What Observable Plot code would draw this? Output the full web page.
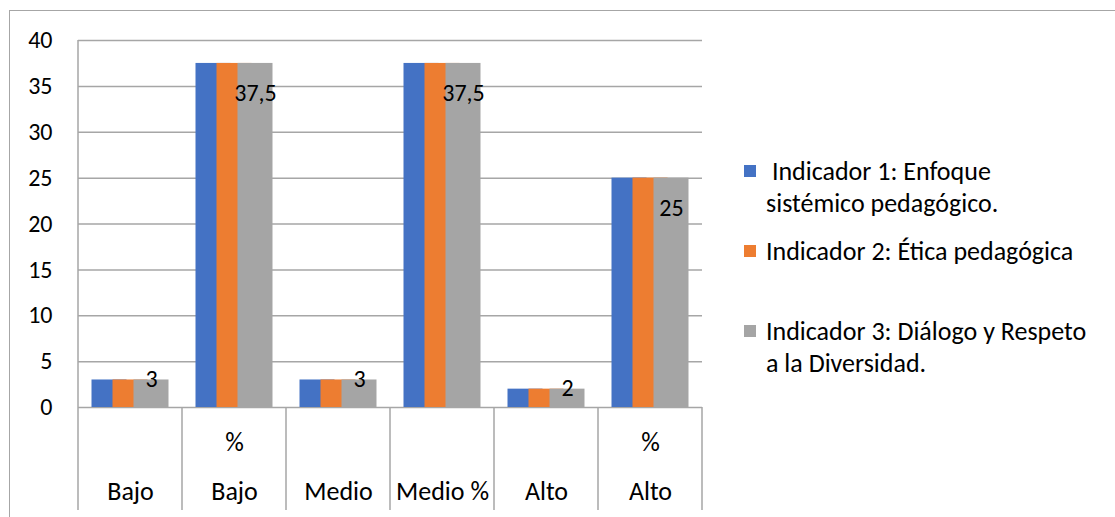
<!DOCTYPE html>
<html>
<head>
<meta charset="utf-8">
<script src="https://cdn.jsdelivr.net/npm/d3@7"></script>
<script src="https://cdn.jsdelivr.net/npm/@observablehq/plot@0.6"></script>
<style>
  html, body { margin: 0; padding: 0; background: #fff; }
  #wrap { position: relative; width: 1115px; height: 517px; overflow: hidden; font-family: Carlito, Calibri, Lato, sans-serif; }
  #border { position: absolute; left: 9px; top: 10px; right: -2px; bottom: -2px; border-left: 1.5px solid #a6a6a6; border-top: 1.5px solid #a6a6a6; }
  #chart { position: absolute; left: 0; top: 0; }
  .leg { position: absolute; font-size: 26px; color: #000; line-height: 32px; white-space: nowrap; }
  .sw { position: absolute; width: 12px; height: 12px; }
</style>
</head>
<body>
<div id="wrap">
  <div id="border"></div>
  <div id="chart"></div>
  <div id="legend"></div>
</div>
<script>
// ---- data ----
const categories = ["Bajo", "% Bajo", "Medio", "Medio %", "Alto", "% Alto"];
const seriesNames = [
  "Indicador 1: Enfoque sistémico pedagógico.",
  "Indicador 2: Ética pedagógica",
  "Indicador 3: Diálogo y Respeto a la Diversidad."
];
const indicador1 = [3, 37.5, 3, 37.5, 2, 25];
const indicador2 = [3, 37.5, 3, 37.5, 2, 25];
const indicador3 = [3, 37.5, 3, 37.5, 2, 25];
const seriesColors = ["#4472C4", "#ED7D31", "#A5A5A5"];
const yTicks = [0, 5, 10, 15, 20, 25, 30, 35, 40];
const categoryLabels = ["Bajo", "%\nBajo", "Medio", "Medio %", "Alto", "%\nAlto"];

const allSeries = [indicador1, indicador2, indicador3];
const rows = allSeries.map((vals, s) =>
  vals.map((v, i) => ({ cat: categories[i], value: v, series: seriesNames[s], s }))
);

const font = "Carlito, Calibri, Lato, sans-serif";
const barStep = 21;      // visible offset between overlapping bars
const barInset = 34.5;   // (band 104 - bar 35) / 2
const tableDepth = 103;  // height of category table below axis

const gridColor = "#a6a6a6";

// table lines below the plot (category separators)
function tableLines(index, scales, values, dims) {
  const g = d3.create("svg:g");
  const x = scales.x, y = scales.y;
  const bw = x.bandwidth();
  const y0 = y(0), yTop = y(40);
  const xs = categories.map(c => x(c));
  xs.push(x(categories[categories.length - 1]) + bw);
  xs.forEach((xx, i) => {
    g.append("line")
      .attr("x1", xx).attr("x2", xx)
      .attr("y1", i === 0 ? yTop : y0)
      .attr("y2", y0 + tableDepth)
      .attr("stroke", gridColor).attr("stroke-width", 1.5);
  });
  return g.node();
}

const fmt = v => String(v).replace(".", ",");

const plot = Plot.plot({
  width: 1115,
  height: 517,
  marginLeft: 78,
  marginRight: 413,
  marginTop: 40,
  marginBottom: 110,
  style: { fontFamily: font, fontSize: "24px", background: "transparent", color: "#000" },
  x: { domain: categories, padding: 0, axis: null },
  y: { domain: [0, 40], ticks: yTicks, label: null },
  marks: [
    Plot.gridY(yTicks, { stroke: gridColor, strokeOpacity: 1, strokeWidth: 1.5 }),
    Plot.axisY(yTicks, { tickSize: 0, tickPadding: 26, fontSize: 24, label: null, fill: "#000" }),
    ...rows.map((r, s) => Plot.barY(r, {
      x: "cat", y: "value", fill: seriesColors[s],
      insetLeft: barInset, insetRight: barInset, dx: (s - 1) * barStep
    })),
    Plot.text(rows[2].filter(d => d.value >= 10), {
      x: "cat", y: "value", text: d => fmt(d.value), dx: barStep, dy: 30,
      fontSize: 24, fill: "#000"
    }),
    Plot.text(rows[2].filter(d => d.value < 10), {
      x: "cat", y: "value", text: d => fmt(d.value), dx: barStep, dy: -1,
      fontSize: 24, fill: "#000"
    }),
    Plot.text(categories, {
      x: d => d, text: (d, i) => categoryLabels[i], frameAnchor: "bottom",
      lineAnchor: "bottom", lineHeight: 1.85, dy: 92, fontSize: 26, fill: "#000"
    }),
    tableLines
  ]
});
document.getElementById("chart").appendChild(plot);

// legend (HTML, right of plot)
const legend = document.getElementById("legend");
const legendItems = [
  { lines: ["\u00a0Indicador 1: Enfoque", "sistémico pedagógico."], top: 155, sq: 165 },
  { lines: ["Indicador 2: Ética pedagógica"], top: 235, sq: 245 },
  { lines: ["Indicador 3: Diálogo y Respeto", "a la Diversidad."], top: 315, sq: 325 }
];
legendItems.forEach((it, i) => {
  const sw = document.createElement("div");
  sw.className = "sw";
  sw.style.left = "744px";
  sw.style.top = it.sq + "px";
  sw.style.background = seriesColors[i];
  legend.appendChild(sw);
  const t = document.createElement("div");
  t.className = "leg";
  t.style.left = "766px";
  t.style.top = it.top + "px";
  t.innerHTML = it.lines.join("<br>");
  legend.appendChild(t);
});
</script>
</body>
</html>
